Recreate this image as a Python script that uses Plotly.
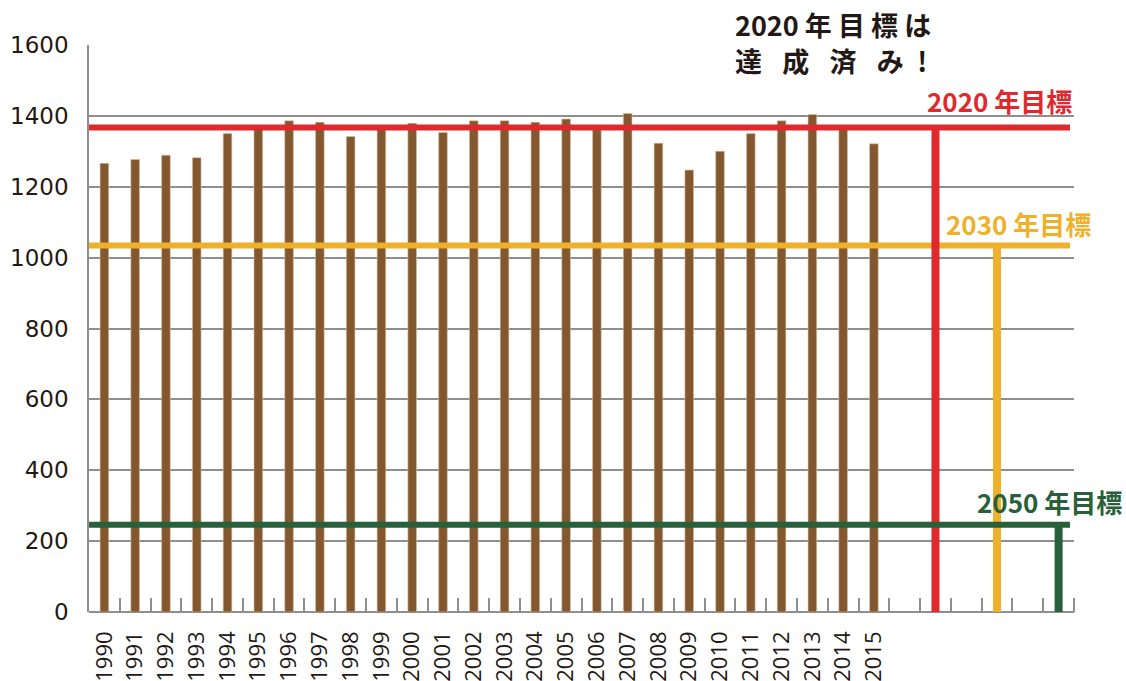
import plotly.graph_objects as go

years = [str(y) for y in range(1990, 2016)]
values = [1266, 1277, 1289, 1282, 1350, 1366, 1386, 1382, 1342, 1366,
          1379, 1353, 1386, 1386, 1382, 1391, 1366, 1407, 1323, 1247,
          1300, 1350, 1386, 1404, 1366, 1321]

target_labels = ["2020 年目標", "2030 年目標", "2050 年目標"]
target_values = [1367, 1034, 246]
target_colors = ["#DF2A2D", "#EFB02A", "#27603A"]
target_slots = [27, 29, 31]

y_ticks = [0, 200, 400, 600, 800, 1000, 1200, 1400, 1600]

n_slots = 32
xs = list(range(len(years)))

fig = go.Figure()
fig.add_trace(go.Bar(
    x=xs, y=values, width=0.28,
    marker=dict(color="#83572F", line=dict(color="#D8C0A0", width=0.6)),
    hoverinfo="x+y",
))

line_end = n_slots - 0.5 - 0.13
order = [1, 0, 2]
for i in order:
    v = target_values[i]
    c = target_colors[i]
    s = target_slots[i]
    fig.add_trace(go.Scatter(x=[-0.5, line_end], y=[v, v], mode="lines",
                             line=dict(color=c, width=6), hoverinfo="skip"))
    fig.add_trace(go.Scatter(x=[s, s], y=[0, v], mode="lines",
                             line=dict(color=c, width=8), hoverinfo="skip"))

label_pos = [(1.0, 0.902), (1.019, 0.685), (1.051, 0.195)]
for i in range(3):
    fig.add_annotation(x=label_pos[i][0], y=label_pos[i][1], xref="paper", yref="paper",
                       text="<b>" + target_labels[i] + "</b>", showarrow=False,
                       xanchor="right", yanchor="middle",
                       font=dict(family="Noto Sans CJK JP", size=26, color=target_colors[i]))

fig.add_annotation(x=0.654, y=1.0365, xref="paper", yref="paper",
                   text="<b>2020 年 目 標 は</b>",
                   showarrow=False, xanchor="left", yanchor="middle",
                   font=dict(family="Noto Sans CJK JP", size=27, color="#231815"))
fig.add_annotation(x=0.654, y=0.973, xref="paper", yref="paper",
                   text="<b>達\u2002\u2005成\u2002\u2005済\u2002\u2005み\u2002!</b>",
                   showarrow=False, xanchor="left", yanchor="middle",
                   font=dict(family="Noto Sans CJK JP", size=27, color="#231815"))

grid_c = "#8E8E8E"
fig.update_layout(
    width=1126, height=681,
    margin=dict(l=89, r=52, t=45, b=69),
    paper_bgcolor="white", plot_bgcolor="white",
    showlegend=False,
    xaxis=dict(
        range=[-0.5, n_slots - 0.5],
        tickvals=xs, ticktext=years, tickangle=-90,
        ticks="", showgrid=False, zeroline=False,
        showline=False, automargin=False,
        tickfont=dict(family="Open Sans", size=22, color="#231815"),
        ticklabelstandoff=14,
        minor=dict(tickvals=[k + 0.5 for k in range(n_slots)], ticks="inside",
                   ticklen=14, tickcolor=grid_c, tickwidth=1.5, showgrid=False),
    ),
    yaxis=dict(
        range=[0, 1600], tickvals=y_ticks,
        showgrid=True, gridcolor=grid_c, gridwidth=1.5,
        zeroline=True, zerolinecolor=grid_c, zerolinewidth=1.5,
        showline=True, linecolor=grid_c, linewidth=1.5,
        ticks="", ticklabelstandoff=14, automargin=False,
        tickfont=dict(family="DejaVu Sans", size=23, color="#231815"),
    ),
)

fig.write_html("out.html")
